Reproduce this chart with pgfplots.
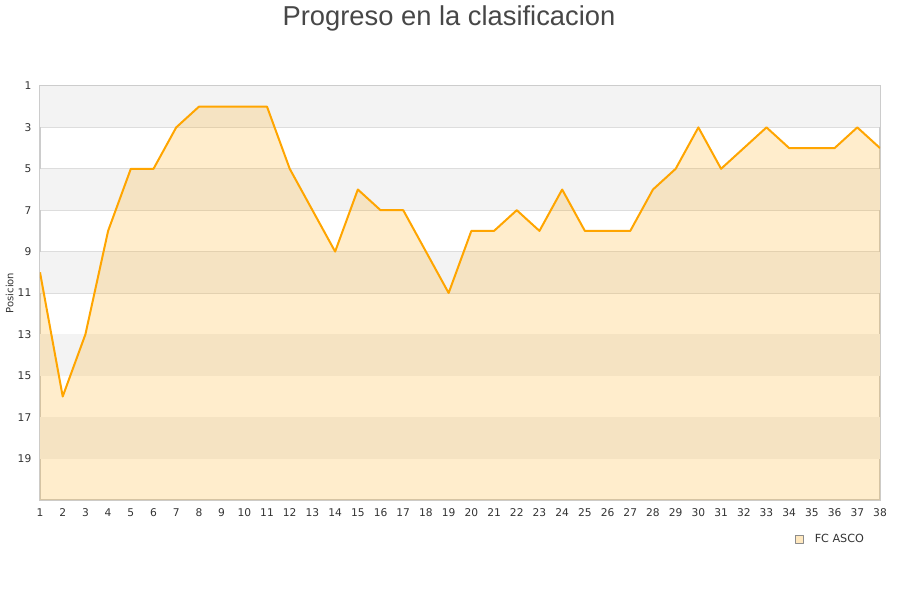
\documentclass[border=0pt]{standalone}
\usepackage{pgfplots}
\pgfplotsset{compat=1.18}
\usepackage{pgfplotstable}
\usepackage{fontspec}
\setmainfont{DejaVu Sans}
\newfontfamily\titlefont{Liberation Sans}
\definecolor{lineor}{HTML}{FFA500}
\definecolor{band}{HTML}{F3F3F3}
\definecolor{gridc}{HTML}{DDDDDD}
\definecolor{axc}{HTML}{CCCCCC}
\definecolor{txt}{HTML}{333333}
\pgfplotstableread{
jor posi
1 10
2 16
3 13
4 8
5 5
6 5
7 3
8 2
9 2
10 2
11 2
12 5
13 7
14 9
15 6
16 7
17 7
18 9
19 11
20 8
21 8
22 7
23 8
24 6
25 8
26 8
27 8
28 6
29 5
30 3
31 5
32 4
33 3
34 4
35 4
36 4
37 3
38 4
}\datatab
\begin{document}
\begin{tikzpicture}
\useasboundingbox (0pt,0pt) rectangle (675pt,450pt);
\node[font=\titlefont\fontsize{20.5}{24}\selectfont, text=black!72] at (336.75pt,436.5pt) {Progreso en la clasificacion};
\begin{axis}[
  at={(30pt,75pt)}, anchor=south west,
  scale only axis, width=630pt, height=310.5pt,
  xmin=1, xmax=38, ymin=1, ymax=21, y dir=reverse,
  xtick={1,...,38}, ytick={1,3,...,19},
  major tick length=0pt,
  ymajorgrids, grid style={gridc, line width=0.6pt},
  axis line style={axc, line width=0.8pt},
  tick label style={font=\fontsize{8}{9.5}\selectfont, text=txt},
  /pgf/number format/assume math mode=true,
  xticklabel style={yshift=-3pt},
  yticklabel style={xshift=-3pt},
  ylabel={Posicion},
  ylabel style={font=\fontsize{7.5}{9}\selectfont, text=txt, at={(axis description cs:-0.036,0.5)}, anchor=center},
  legend style={at={(axis description cs:0.899,-0.094)}, anchor=west, draw=none, fill=none, font=\fontsize{8.4}{10}\selectfont, text=txt, inner sep=0pt},
  legend image code/.code={\draw[fill=lineor!25, draw=gray!90, line width=0.5pt] (1pt,-3pt) rectangle (7pt,3pt); \path (12.5pt,0pt);},
]
\addplot[band, fill=band, draw=none, forget plot] coordinates {(1,1) (38,1) (38,3) (1,3)} -- cycle;
\addplot[band, fill=band, draw=none, forget plot] coordinates {(1,5) (38,5) (38,7) (1,7)} -- cycle;
\addplot[band, fill=band, draw=none, forget plot] coordinates {(1,9) (38,9) (38,11) (1,11)} -- cycle;
\addplot[band, fill=band, draw=none, forget plot] coordinates {(1,13) (38,13) (38,15) (1,15)} -- cycle;
\addplot[band, fill=band, draw=none, forget plot] coordinates {(1,17) (38,17) (38,19) (1,19)} -- cycle;
\addplot[fill=lineor, fill opacity=0.2, draw=none, forget plot] table[x=jor,y=posi] {\datatab} -- (axis cs:38,21) -- (axis cs:1,21) -- cycle;
\addplot[lineor, line width=1.5pt, line join=round] table[x=jor,y=posi] {\datatab};
\addlegendentry{FC ASCO}
\end{axis}
\end{tikzpicture}
\end{document}
